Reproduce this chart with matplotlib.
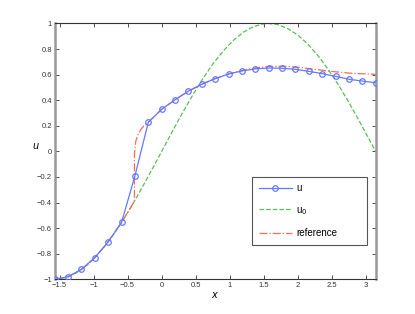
import numpy as np
import matplotlib
matplotlib.use("Agg")
import matplotlib.pyplot as plt
from matplotlib.patches import Rectangle

# computed solution u (25 nodes on [-pi/2, pi])
x_u = np.linspace(-np.pi / 2, np.pi, 25)
u = [-1.0, -0.98, -0.922, -0.831, -0.708, -0.555, -0.192, 0.228, 0.329,
     0.404, 0.472, 0.525, 0.569, 0.605, 0.629, 0.645, 0.652, 0.650, 0.642,
     0.626, 0.608, 0.587, 0.564, 0.550, 0.537]

# initial condition u0
x_u0 = [-1.571, -1.4, -1.25, -1.1, -1.0, -0.85, -0.7, -0.55, -0.4, -0.25,
        -0.1, 0.0, 0.15, 0.3, 0.45, 0.6, 0.75, 0.9, 1.05, 1.2, 1.35, 1.5,
        1.571, 1.7, 1.85, 2.0, 2.15, 2.3, 2.45, 2.6, 2.75, 2.9, 3.05, 3.1416]
u0 = [-1.0, -0.985, -0.949, -0.891, -0.841, -0.751, -0.644, -0.523, -0.389,
      -0.247, -0.1, 0.0, 0.149, 0.296, 0.435, 0.565, 0.682, 0.783, 0.867,
      0.932, 0.976, 0.997, 1.0, 0.992, 0.961, 0.909, 0.837, 0.746, 0.638,
      0.516, 0.382, 0.239, 0.091, 0.0]

# reference solution
x_ref = [-1.571, -1.37, -1.18, -0.98, -0.79, -0.59, -0.5, -0.40, -0.40,
         -0.38, -0.35, -0.30, -0.25, -0.196, 0.0, 0.2, 0.4, 0.6, 0.8, 1.0,
         1.2, 1.4, 1.6, 1.8, 2.0, 2.2, 2.5, 2.8, 3.1416]
u_ref = [-1.0, -0.98, -0.923, -0.831, -0.708, -0.555, -0.479, -0.39, -0.02,
         0.08, 0.13, 0.175, 0.205, 0.228, 0.329, 0.405, 0.472, 0.527, 0.572,
         0.608, 0.635, 0.655, 0.664, 0.665, 0.658, 0.645, 0.625, 0.61, 0.603]

xticks = [-1.5, -1, -0.5, 0, 0.5, 1, 1.5, 2, 2.5, 3]
yticks = [-1, -0.8, -0.6, -0.4, -0.2, 0, 0.2, 0.4, 0.6, 0.8, 1]

plt.rcParams['font.family'] = ['Liberation Sans', 'DejaVu Sans']

fig = plt.figure(figsize=(4.15, 3.14), dpi=100)
ax = fig.add_axes([0.1318, 0.1105, 0.7733, 0.8147])

blue = (0.4, 0.47, 1.0)
green = (0.35, 0.75, 0.35)
red = (1.0, 0.42, 0.32)

ax.plot(x_u, u, '-o', color=blue, lw=0.9, ms=4, mfc='none', mew=0.9,
        label='u', zorder=3)
ax.plot(x_u0, u0, '--', color=green, lw=0.9, label='u$_0$', zorder=2)
ax.plot(x_ref, u_ref, '-.', color=red, lw=0.9, label='reference', zorder=2)

ax.set_xlim(-np.pi / 2, np.pi)
ax.set_ylim(-1, 1)
ax.set_xticks(xticks)
ax.set_xticklabels([('%g' % t).replace('-', '\u2212') for t in xticks])
ax.set_yticks(yticks)
ax.set_yticklabels([('%g' % t).replace('-', '\u2212') for t in yticks])
ax.tick_params(direction='in', length=3, width=0.6, labelsize=5.5,
               top=True, right=True, pad=2, colors='#333333')

for side in ['top', 'bottom']:
    ax.spines[side].set_color('#333333')
    ax.spines[side].set_linewidth(0.8)
for side in ['left', 'right']:
    ax.spines[side].set_color('#999999')
    ax.spines[side].set_linewidth(1.8)

ax.set_xlabel('$x$', fontsize=7, labelpad=1)
ax.set_ylabel('$u$', fontsize=7, rotation=0, labelpad=1)

# legend box drawn separately (MATLAB style wide right margin)
ax.add_patch(Rectangle((0.6158, 0.134), 0.3565, 0.267, transform=ax.transAxes,
                       facecolor='white', edgecolor='#555555', lw=0.8,
                       zorder=4))
leg = ax.legend(loc='upper left', bbox_to_anchor=(0.6365, 0.376),
                fontsize=7, frameon=False, handlelength=3.4,
                labelspacing=1.2, borderpad=0, borderaxespad=0,
                handletextpad=0.4)
leg.set_zorder(5)

fig.savefig('out.png', dpi=100)
